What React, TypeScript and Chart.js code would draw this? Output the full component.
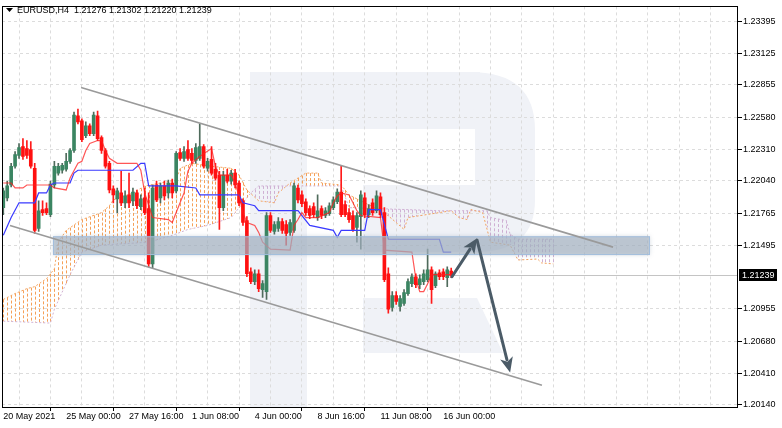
import React, { useEffect, useRef } from "react";
import { Chart, registerables } from "chart.js";
Chart.register(...registerables);

const symbolHeader = "EURUSD,H4  1.21276 1.21302 1.21220 1.21239";
const lastPrice = 1.21239;

const xLabelIdx = [0, 16, 32, 48, 64, 80, 96, 112];
const xLabelText = ["20 May 2021", "25 May 00:00", "27 May 16:00", "1 Jun 08:00", "4 Jun 00:00", "8 Jun 16:00", "11 Jun 08:00", "16 Jun 00:00"];
const xGridIdx = [0, 8, 16, 24, 32, 40, 48, 56, 64, 72, 80, 88, 96, 104, 112, 120, 128, 136, 144, 152, 160, 168, 176, 184];
const yTicks = [1.23395, 1.23125, 1.22855, 1.2258, 1.2231, 1.2204, 1.21765, 1.21495, 1.20955, 1.2068, 1.2041, 1.2014];

const open = [1.21814,1.21897,1.22006,1.22165,1.22257,1.22332,1.22316,1.22307,1.22148,1.21638,
1.21797,1.21805,1.21755,1.22006,1.22107,1.22131,1.22140,1.22207,1.22299,1.22592,
1.22550,1.22424,1.22508,1.22441,1.22592,1.22408,1.22299,1.22190,1.21973,1.21889,
1.21939,1.21855,1.21922,1.21872,1.21939,1.21822,1.21897,1.21805,1.21337,1.22006,
1.21897,1.21998,1.21939,1.22023,1.21956,1.22282,1.22232,1.22307,1.22274,1.22215,
1.22232,1.22332,1.22148,1.22224,1.22140,1.22090,1.21814,1.22090,1.22039,1.22107,
1.22023,1.21872,1.21705,1.21270,1.21186,1.21253,1.21119,1.21102,1.21747,1.21613,
1.21638,1.21696,1.21671,1.21604,1.21621,1.21981,1.21922,1.21864,1.21805,1.21822,
1.21730,1.21805,1.21747,1.21763,1.21814,1.21864,1.21947,1.21839,1.21772,1.21747,
1.21646,1.21738,1.21897,1.21755,1.21855,1.21788,1.21906,1.21772,1.21253,1.20968,
1.21069,1.20977,1.21002,1.21085,1.21169,1.21228,1.21161,1.21186,1.21203,1.21287,
1.21152,1.21261,1.21270,1.21220,1.21276];
const high = [1.21981,1.22039,1.22190,1.22290,1.22358,1.22400,1.22383,1.22374,1.22190,1.21872,
1.21872,1.21855,1.22039,1.22207,1.22190,1.22190,1.22274,1.22316,1.22625,1.22650,
1.22567,1.22542,1.22525,1.22625,1.22634,1.22424,1.22316,1.22207,1.21998,1.21981,
1.22123,1.21956,1.22107,1.21981,1.21964,1.21922,1.21981,1.21939,1.22006,1.22039,
1.22023,1.22039,1.22048,1.22056,1.22290,1.22316,1.22332,1.22383,1.22316,1.22358,
1.22525,1.22349,1.22232,1.22332,1.22190,1.22123,1.22123,1.22140,1.22131,1.22140,
1.22039,1.21889,1.21738,1.21303,1.21287,1.21287,1.21195,1.21772,1.21772,1.21696,
1.21730,1.21721,1.21705,1.21713,1.22023,1.22006,1.21956,1.21889,1.21830,1.21855,
1.21922,1.21830,1.21814,1.21855,1.21906,1.21973,1.22173,1.21872,1.21805,1.21788,
1.21772,1.21956,1.21939,1.21839,1.21889,1.21956,1.21939,1.21814,1.21303,1.21102,
1.21102,1.21069,1.21119,1.21211,1.21253,1.21253,1.21245,1.21287,1.21462,1.21312,
1.21270,1.21287,1.21295,1.21312,1.21302];
const low = [1.21755,1.21872,1.21989,1.22148,1.22232,1.22224,1.22232,1.22148,1.21596,1.21613,
1.21747,1.21755,1.21738,1.21981,1.22090,1.22107,1.22123,1.22190,1.22282,1.22525,
1.22374,1.22408,1.22424,1.22424,1.22383,1.22274,1.22148,1.21939,1.21855,1.21772,
1.21830,1.21814,1.21814,1.21830,1.21805,1.21797,1.21755,1.21312,1.21303,1.21864,
1.21855,1.21880,1.21897,1.21897,1.21939,1.22215,1.22207,1.22215,1.22190,1.22190,
1.22215,1.22148,1.22123,1.22090,1.22048,1.21629,1.21788,1.22023,1.22014,1.21981,
1.21830,1.21663,1.21228,1.21169,1.21161,1.21102,1.21052,1.21035,1.21604,1.21588,
1.21613,1.21596,1.21496,1.21579,1.21604,1.21855,1.21822,1.21747,1.21721,1.21730,
1.21705,1.21721,1.21730,1.21747,1.21797,1.21847,1.21738,1.21738,1.21688,1.21613,
1.21521,1.21462,1.21730,1.21730,1.21747,1.21772,1.21730,1.21186,1.20918,1.20935,
1.20993,1.20935,1.20985,1.21069,1.21144,1.21136,1.21127,1.21161,1.21186,1.21002,
1.21136,1.21203,1.21203,1.21144,1.21220];
const close = [1.21956,1.21998,1.22165,1.22265,1.22324,1.22249,1.22257,1.22165,1.21621,1.21788,
1.21772,1.21772,1.22014,1.22165,1.22165,1.22173,1.22207,1.22299,1.22600,1.22542,
1.22391,1.22508,1.22441,1.22600,1.22400,1.22299,1.22165,1.21964,1.21922,1.21956,
1.21855,1.21914,1.21855,1.21947,1.21830,1.21889,1.21772,1.21337,1.21981,1.21880,
1.21998,1.21914,1.22023,1.21939,1.22274,1.22232,1.22290,1.22232,1.22215,1.22324,
1.22332,1.22165,1.22207,1.22107,1.22065,1.21814,1.22090,1.22039,1.22107,1.22006,
1.21855,1.21688,1.21253,1.21186,1.21253,1.21127,1.21169,1.21747,1.21621,1.21671,
1.21696,1.21621,1.21596,1.21688,1.21998,1.21880,1.21847,1.21772,1.21747,1.21755,
1.21788,1.21747,1.21788,1.21830,1.21880,1.21947,1.21755,1.21755,1.21713,1.21629,
1.21747,1.21922,1.21755,1.21805,1.21772,1.21914,1.21755,1.21203,1.20952,1.21069,
1.21019,1.21043,1.21094,1.21186,1.21228,1.21161,1.21211,1.21253,1.21287,1.21119,
1.21253,1.21228,1.21228,1.21287,1.21239];

const tenkanX = [0,2,3,5,6,12,13,16,17,19,20,21,22,24,25,26,27,29,34,35,36,38,42,43,44,46,47,48,50,53,54,55,58,59,60,61,62,64,65,66,68,73,74,75,76,77,80,83,84,85,86,88,89,90,91,96,97,104,105,106,107,108,109,114];
const tenkanY = [1.22023,1.22023,1.21981,1.21981,1.22006,1.22006,1.21981,1.21964,1.22065,1.22190,1.22207,1.22299,1.22358,1.22383,1.22383,1.22299,1.22232,1.22190,1.22190,1.22131,1.21939,1.21730,1.21713,1.21688,1.21772,1.21939,1.22123,1.22190,1.22249,1.22316,1.22165,1.22090,1.22090,1.22023,1.21914,1.21772,1.21688,1.21663,1.21604,1.21521,1.21462,1.21454,1.21663,1.21713,1.21772,1.21730,1.21730,1.21772,1.21855,1.21914,1.21939,1.21922,1.21855,1.21788,1.21747,1.21730,1.21454,1.21437,1.21211,1.21102,1.21102,1.21169,1.21245,1.21245];
const kijunX = [0,2,4,8,9,11,12,13,17,18,19,33,35,36,37,44,49,50,60,61,64,65,75,78,84,85,86,92,93,96,98,111,112,114];
const kijunY = [1.21579,1.21730,1.21855,1.21855,1.21939,1.21939,1.22006,1.22023,1.22023,1.22107,1.22131,1.22131,1.22190,1.22190,1.21998,1.21998,1.21981,1.21922,1.21922,1.21855,1.21830,1.21788,1.21788,1.21663,1.21621,1.21562,1.21621,1.21621,1.21797,1.21797,1.21546,1.21546,1.21437,1.21437];
const spanAX = [0,3,6,8,11,13,14,16,20,25,27,28,33,36,40,44,45,48,53,58,60,62,65,69,70,73,77,80,81,86,88,92,97,100,102,103,111,114,116,118,119,122,124,129,131,136,137,140];
const spanAY = [1.21035,1.21085,1.21127,1.21144,1.21211,1.21295,1.21521,1.21621,1.21713,1.21772,1.21830,1.21880,1.21939,1.21998,1.22023,1.22048,1.22148,1.22190,1.22165,1.22148,1.22090,1.21964,1.21872,1.21855,1.21939,1.22023,1.22107,1.22107,1.22023,1.22006,1.21922,1.21855,1.21772,1.21688,1.21629,1.21730,1.21772,1.21788,1.21730,1.21713,1.21797,1.21772,1.21521,1.21496,1.21370,1.21378,1.21345,1.21337];
const spanBX = [0,12,13,17,20,25,37,43,47,52,58,61,63,65,86,88,103,111,123,124,128,129,131,140];
const spanBY = [1.20851,1.20835,1.20952,1.21245,1.21437,1.21496,1.21521,1.21579,1.21629,1.21663,1.21730,1.21855,1.21939,1.21998,1.21998,1.21814,1.21797,1.21788,1.21788,1.21730,1.21705,1.21588,1.21546,1.21546];

// annotation anchors (bar index, price)
const channelUpper = [[19.8, 1.22834], [155.2, 1.21479]];
const channelLower = [[1.7, 1.21663], [137.1, 1.20307]];
const zoneBand = [[12.65, 1.21571], [164.6, 1.21412]];
const arrowPath = [[114.2, 1.21228], [120.6, 1.21554], [129.0, 1.20416]];

const FONT = "'Liberation Sans', Arial, sans-serif";

function drawArrow(ctx: CanvasRenderingContext2D, x1: number, y1: number, x2: number, y2: number) {
  const ang = Math.atan2(y2 - y1, x2 - x1);
  const hl = 15, hw = 6.5;
  const bx = x2 - Math.cos(ang) * hl, by = y2 - Math.sin(ang) * hl;
  ctx.beginPath();
  ctx.moveTo(x1, y1);
  ctx.lineTo(bx + Math.cos(ang) * 2, by + Math.sin(ang) * 2);
  ctx.stroke();
  ctx.beginPath();
  ctx.moveTo(x2, y2);
  ctx.lineTo(bx + Math.cos(ang + Math.PI / 2) * hw, by + Math.sin(ang + Math.PI / 2) * hw);
  ctx.lineTo(bx + Math.cos(ang) * 4, by + Math.sin(ang) * 4);
  ctx.lineTo(bx + Math.cos(ang - Math.PI / 2) * hw, by + Math.sin(ang - Math.PI / 2) * hw);
  ctx.closePath();
  ctx.fill();
}

// pixel y of a drawn polyline at pixel x (places the per-bar cloud hatch between the two span lines)
function polyYAt(pts: number[][], px: number): number {
  if (px <= pts[0][0]) return pts[0][1];
  for (let k = 0; k < pts.length - 1; k++) {
    const [x0, y0] = pts[k], [x1, y1] = pts[k + 1];
    if (px >= x0 && px <= x1) return x1 === x0 ? y1 : y0 + ((px - x0) / (x1 - x0)) * (y1 - y0);
  }
  return pts[pts.length - 1][1];
}

const overlayPlugin = {
  id: "mtOverlay",
  beforeDraw(chart: any) {
    const { ctx } = chart;
    ctx.save();
    ctx.fillStyle = "#ffffff";
    ctx.fillRect(0, 0, chart.width, chart.height);
    // faint watermark logo
    ctx.fillStyle = "#f0f2f7";
    ctx.fillRect(250, 72, 57, 336);
    ctx.fillRect(250, 72, 230, 57);
    ctx.beginPath();
    ctx.moveTo(470, 72);
    ctx.quadraticCurveTo(535, 72, 535, 130);
    ctx.lineTo(535, 200);
    ctx.quadraticCurveTo(535, 250, 480, 252);
    ctx.lineTo(363, 252);
    ctx.lineTo(363, 185);
    ctx.lineTo(475, 185);
    ctx.lineTo(475, 129);
    ctx.closePath();
    ctx.fill();
    ctx.beginPath();
    ctx.moveTo(363, 298);
    ctx.lineTo(477, 298);
    ctx.lineTo(503, 353);
    ctx.lineTo(363, 353);
    ctx.closePath();
    ctx.fill();
    ctx.restore();
  },
  beforeDatasetsDraw(chart: any) {
    const { ctx, chartArea: a, scales } = chart;
    const x = scales.x, y = scales.y;
    const X = (v: number) => x.getPixelForValue(v);
    const Y = (v: number) => y.getPixelForValue(v);
    ctx.save();
    ctx.beginPath();
    ctx.rect(a.left, a.top, a.right - a.left, a.bottom - a.top);
    ctx.clip();
    // current price line
    ctx.strokeStyle = "#c4c4c4";
    ctx.lineWidth = 1;
    const py = Math.round(Y(lastPrice)) + 0.5;
    ctx.beginPath();
    ctx.moveTo(a.left, py);
    ctx.lineTo(a.right, py);
    ctx.stroke();
    // Ichimoku cloud: one dotted vertical stroke per bar from span A to span B
    const pa = spanAX.map((v, k) => [X(v), Y(spanAY[k])]);
    const pb = spanBX.map((v, k) => [X(v), Y(spanBY[k])]);
    const lastBar = spanAX[spanAX.length - 1];
    ctx.lineWidth = 1;
    ctx.setLineDash([3, 2]);
    const up = new Path2D();
    const dn = new Path2D();
    for (let i = 0; i <= lastBar; i++) {
      const px = X(i);
      const ya = polyYAt(pa, px), yb = polyYAt(pb, px);
      const sx = Math.round(px) + 0.5;
      const p = ya <= yb ? up : dn;
      p.moveTo(sx, Math.min(ya, yb));
      p.lineTo(sx, Math.max(ya, yb));
    }
    ctx.strokeStyle = "#f5a058";
    ctx.stroke(up);
    ctx.strokeStyle = "#cfb0d3";
    ctx.stroke(dn);
    ctx.restore();
  },
  afterDatasetsDraw(chart: any) {
    const { ctx, chartArea: a, scales } = chart;
    const x = scales.x, y = scales.y;
    const X = (v: number) => x.getPixelForValue(v);
    const Y = (v: number) => y.getPixelForValue(v);
    ctx.save();
    ctx.beginPath();
    ctx.rect(a.left, a.top, a.right - a.left, a.bottom - a.top);
    ctx.clip();
    // horizontal zone
    const bx1 = X(zoneBand[0][0]), bx2 = X(zoneBand[1][0]);
    const by1 = Y(zoneBand[0][1]), by2 = Y(zoneBand[1][1]);
    ctx.shadowColor = "rgba(120,140,160,0.45)";
    ctx.shadowBlur = 4;
    ctx.fillStyle = "rgba(168,180,195,0.62)";
    ctx.fillRect(bx1, by1, bx2 - bx1, by2 - by1);
    ctx.shadowBlur = 0;
    ctx.shadowColor = "transparent";
    ctx.strokeStyle = "rgba(160,188,222,0.9)";
    ctx.lineWidth = 1;
    ctx.strokeRect(bx1 + 0.5, by1 + 0.5, bx2 - bx1 - 1, by2 - by1 - 1);
    // channel lines
    ctx.strokeStyle = "#9a9a9a";
    ctx.lineWidth = 1.6;
    for (const ln of [channelUpper, channelLower]) {
      ctx.beginPath();
      ctx.moveTo(X(ln[0][0]), Y(ln[0][1]));
      ctx.lineTo(X(ln[1][0]), Y(ln[1][1]));
      ctx.stroke();
    }
    // arrows
    ctx.strokeStyle = "#4b5b67";
    ctx.fillStyle = "#4b5b67";
    ctx.lineWidth = 3;
    ctx.lineCap = "round";
    drawArrow(ctx, X(arrowPath[0][0]), Y(arrowPath[0][1]), X(arrowPath[1][0]), Y(arrowPath[1][1]));
    drawArrow(ctx, X(arrowPath[1][0]), Y(arrowPath[1][1]) + 2, X(arrowPath[2][0]), Y(arrowPath[2][1]));
    ctx.restore();

    // frame
    ctx.save();
    ctx.strokeStyle = "#000";
    ctx.lineWidth = 1;
    ctx.strokeRect(Math.round(a.left) + 0.5, Math.round(a.top) + 0.5, Math.round(a.right - a.left) - 1, Math.round(a.bottom - a.top));
    // header
    ctx.fillStyle = "#000";
    ctx.beginPath();
    ctx.moveTo(6, 8); ctx.lineTo(13, 8); ctx.lineTo(9.5, 12); ctx.closePath(); ctx.fill();
    ctx.font = "9px " + FONT;
    ctx.textBaseline = "middle";
    ctx.textAlign = "left";
    ctx.fillText(symbolHeader, 17, 10.5);
    // last price tag
    const py = Math.round(Y(lastPrice));
    ctx.fillStyle = "#000";
    ctx.fillRect(Math.round(a.right) + 1, py - 6, 38, 12);
    ctx.fillStyle = "#fff";
    ctx.fillText(lastPrice.toFixed(5), Math.round(a.right) + 4, py + 0.5);
    ctx.restore();
  },
};

export default function App() {
  const ref = useRef<HTMLCanvasElement | null>(null);
  useEffect(() => {
    const canvas = ref.current;
    if (!canvas) return;
    const idx = open.map((_, i) => i);
    const isUp = (i: number) => close[i] >= open[i];
    const chart = new Chart(canvas, {
      type: "bar",
      data: {
        datasets: [
          {
            type: "line",
            data: spanBX.map((v, k) => ({ x: v, y: spanBY[k] })),
            borderColor: "#d2b4d6",
            borderWidth: 1,
            borderDash: [2, 2],
            pointRadius: 0,
            fill: false,
            order: 10,
          } as any,
          {
            type: "line",
            data: spanAX.map((v, k) => ({ x: v, y: spanAY[k] })),
            borderColor: "#f4a460",
            borderWidth: 1,
            borderDash: [2, 2],
            pointRadius: 0,
            fill: false,
            order: 9,
          } as any,
          {
            type: "bar",
            data: idx.map((i) => ({ x: i, y: [low[i], high[i]] })),
            backgroundColor: idx.map((i) => (isUp(i) ? "#4f6b5c" : "#ff1a1a")),
            barThickness: 1,
            grouped: false,
            order: 3,
          } as any,
          {
            type: "bar",
            data: idx.map((i) => ({ x: i, y: [open[i], close[i]] })),
            backgroundColor: idx.map((i) => (isUp(i) ? "#3b8562" : "#ff1010")),
            borderWidth: 0,
            barThickness: 3,
            minBarLength: 1,
            grouped: false,
            order: 2,
          } as any,
          {
            type: "line",
            data: kijunX.map((v, k) => ({ x: v, y: kijunY[k] })),
            borderColor: "#3a3aff",
            borderWidth: 1.2,
            pointRadius: 0,
            fill: false,
            order: 1,
          } as any,
          {
            type: "line",
            data: tenkanX.map((v, k) => ({ x: v, y: tenkanY[k] })),
            borderColor: "rgba(255,30,30,0.75)",
            borderWidth: 1.2,
            pointRadius: 0,
            fill: false,
            order: 0,
          } as any,
        ],
      },
      options: {
        animation: false,
        responsive: false,
        maintainAspectRatio: false,
        events: [],
        layout: { padding: { left: 2, top: 1, right: 0, bottom: 0 } },
        plugins: { legend: { display: false }, tooltip: { enabled: false } },
        scales: {
          x: {
            type: "linear",
            min: -0.33,
            max: 187,
            offset: false,
            afterBuildTicks: (s: any) => {
              s.ticks = xGridIdx.map((v) => ({ value: v }));
            },
            afterFit: (s: any) => {
              s.height = 21;
            },
            grid: {
              color: "#dcdcdc",
              lineWidth: 1,
              drawTicks: true,
              tickLength: 4,
              tickColor: (c: any) => (c.tick && xLabelIdx.includes(c.tick.value) ? "#000" : "rgba(0,0,0,0)"),
              tickBorderDash: [],
            },
            border: { display: false, dash: [3, 3] },
            ticks: {
              autoSkip: false,
              maxRotation: 0,
              minRotation: 0,
              align: "start",
              padding: 0,
              color: "#000",
              font: { family: FONT, size: 9 },
              callback: (v: any) => {
                const k = xLabelIdx.indexOf(Number(v));
                return k >= 0 ? xLabelText[k] : "";
              },
            },
          },
          y: {
            type: "linear",
            position: "right",
            min: 1.20123,
            max: 1.23521,
            afterBuildTicks: (s: any) => {
              s.ticks = yTicks.map((v) => ({ value: v }));
            },
            afterFit: (s: any) => {
              s.width = 44;
            },
            grid: {
              color: "#dcdcdc",
              lineWidth: 1,
              drawTicks: true,
              tickLength: 4,
              tickColor: "#000",
              tickBorderDash: [],
            },
            border: { display: false, dash: [3, 3] },
            ticks: {
              padding: 1,
              color: "#000",
              font: { family: FONT, size: 9 },
              callback: (v: any) => Number(v).toFixed(5),
            },
          },
        },
      } as any,
      plugins: [overlayPlugin],
    });
    return () => chart.destroy();
  }, []);
  return (
    <div style={{ position: "fixed", left: 0, top: 0, width: 782, height: 428, background: "#fff" }}>
      <canvas ref={ref} width={782} height={428} style={{ display: "block", width: 782, height: 428 }} />
    </div>
  );
}
